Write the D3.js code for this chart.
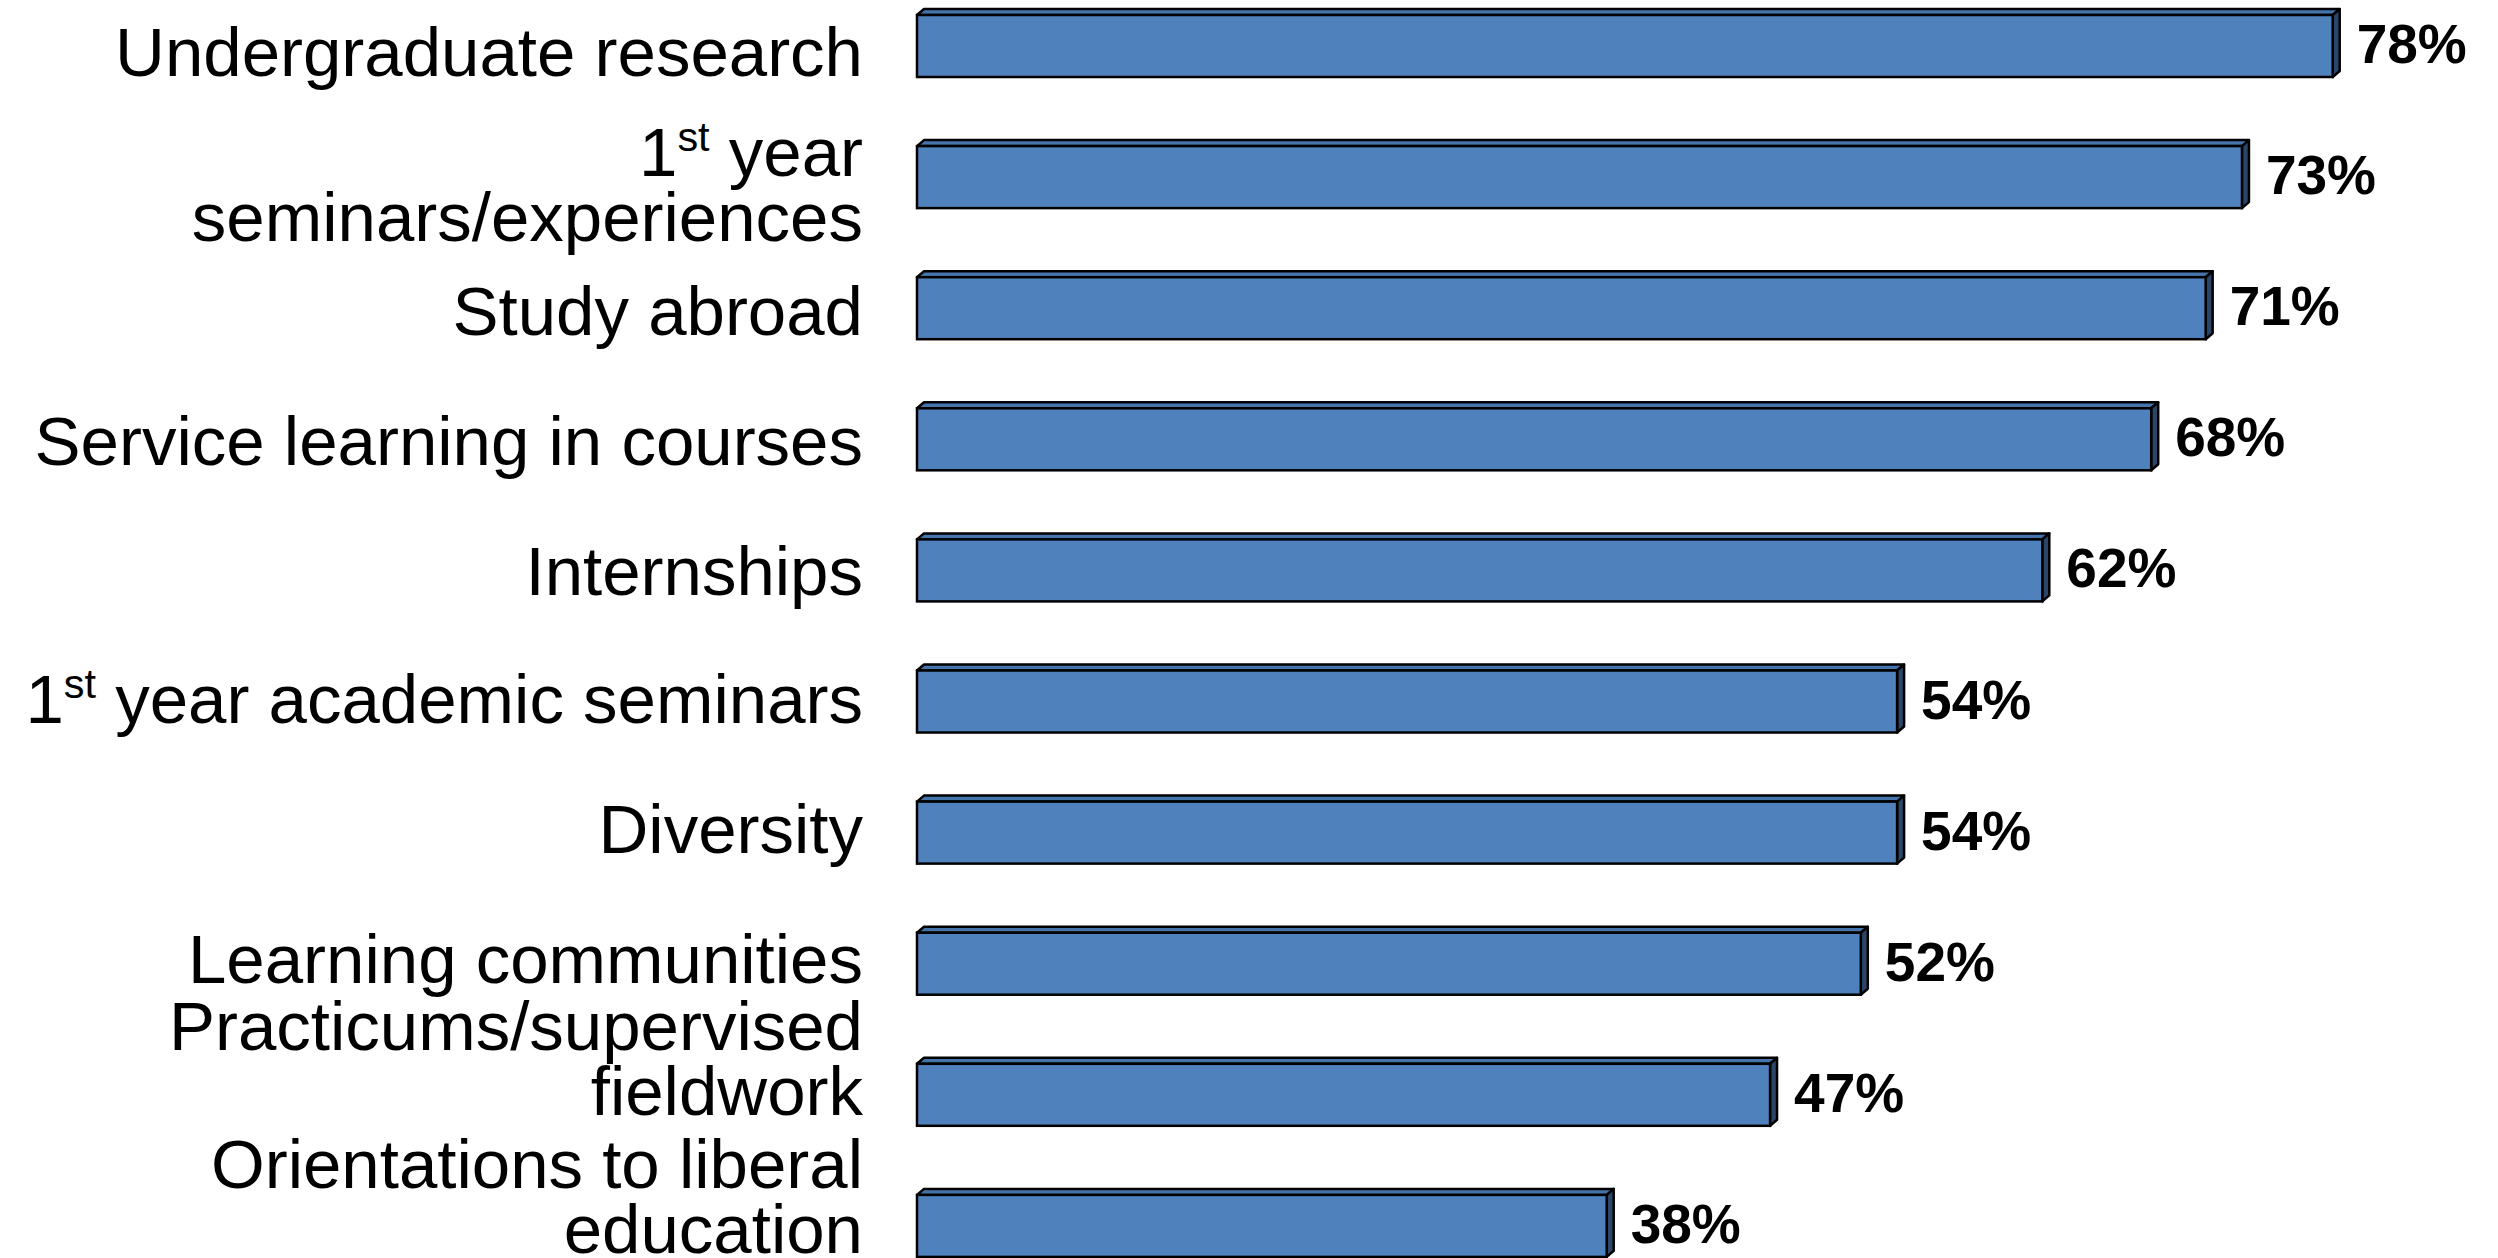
<!DOCTYPE html>
<html>
<head>
<meta charset="utf-8">
<script src="https://cdn.jsdelivr.net/npm/d3@7"></script>
<style>
  html, body { margin: 0; padding: 0; background: #fff; }
  svg { display: block; }
</style>
</head>
<body>
<svg id="chart" width="2498" height="1258"></svg>
<script>
// Share of institutions offering each high-impact practice
const categories = [
  "Undergraduate research",
  "1st year seminars/experiences",
  "Study abroad",
  "Service learning in courses",
  "Internships",
  "1st year academic seminars",
  "Diversity",
  "Learning communities",
  "Practicums/supervised fieldwork",
  "Orientations to liberal education"
];
const values = [78, 73, 71, 68, 62, 54, 54, 52, 47, 38];

// How each category name is broken into lines ("^" marks a superscript run)
const labelLines = [
  ["Undergraduate research"],
  ["1^st year", "seminars/experiences"],
  ["Study abroad"],
  ["Service learning in courses"],
  ["Internships"],
  ["1^st year academic seminars"],
  ["Diversity"],
  ["Learning communities"],
  ["Practicums/supervised", "fieldwork"],
  ["Orientations to liberal", "education"]
];

// Layout
const barLeft = 917, pxPerPct = 18.15;
const bandTop = 15, step = 131.1, padInner = 0.527;
const depthX = 7, depthY = 6;
const labelRight = 863, labelSize = 69, lineGap = 65;
// baseline of each label's last line, measured from the bar's middle
const labelBaselineDy = [30, 64, 27, 26, 25, 21, 20, 19, 20, 27];

const svg = d3.select("#chart");

const x = d3.scaleLinear().domain([0, 100]).range([barLeft, barLeft + 100 * pxPerPct]);
const y = d3.scaleBand()
  .domain(categories)
  .range([bandTop, bandTop + step * (categories.length - padInner)])
  .paddingInner(padInner)
  .paddingOuter(0);

const rows = categories.map((c, i) => ({ c, v: values[i], lines: labelLines[i], dy: labelBaselineDy[i] }));

const bars = svg.append("g").attr("class", "bars")
  .selectAll("g").data(rows).join("g");

// top face
bars.append("path")
  .attr("d", d => {
    const x0 = x(0), x1 = x(d.v), y0 = y(d.c);
    return `M${x0},${y0}L${x0 + depthX},${y0 - depthY}L${x1 + depthX},${y0 - depthY}L${x1},${y0}Z`;
  })
  .attr("fill", "#4574AB")
  .attr("stroke", "#000").attr("stroke-width", 2.5).attr("stroke-linejoin", "round");

// right side face
bars.append("path")
  .attr("d", d => {
    const x1 = x(d.v), y0 = y(d.c), y1 = y0 + y.bandwidth();
    return `M${x1},${y0}L${x1 + depthX},${y0 - depthY}L${x1 + depthX},${y1 - depthY}L${x1},${y1}Z`;
  })
  .attr("fill", "#2B4668")
  .attr("stroke", "#000").attr("stroke-width", 2.5).attr("stroke-linejoin", "round");

// front face
bars.append("rect")
  .attr("x", x(0))
  .attr("y", d => y(d.c))
  .attr("width", d => x(d.v) - x(0))
  .attr("height", y.bandwidth())
  .attr("fill", "#4F81BD")
  .attr("stroke", "#000").attr("stroke-width", 2.5);

// value labels
svg.append("g").attr("class", "values")
  .selectAll("text").data(rows).join("text")
  .attr("x", d => x(d.v) + depthX + 17)
  .attr("y", d => y(d.c) + y.bandwidth() / 2 + 17)
  .attr("font-family", "'Liberation Sans', Arial, sans-serif")
  .attr("font-weight", "bold")
  .attr("font-size", 55)
  .attr("fill", "#000")
  .text(d => d.v + "%");

// category labels
const labels = svg.append("g").attr("class", "labels")
  .selectAll("text").data(rows).join("text")
  .attr("text-anchor", "end")
  .attr("font-family", "'Liberation Sans', Arial, sans-serif")
  .attr("font-size", labelSize)
  .attr("fill", "#000");

labels.each(function(d) {
  const t = d3.select(this);
  const lastBase = y(d.c) + y.bandwidth() / 2 + d.dy;
  d.lines.forEach((line, li) => {
    const base = lastBase - (d.lines.length - 1 - li) * lineGap;
    const m = line.match(/^(.*?)\^(\w+)(.*)$/);
    if (m) {
      t.append("tspan").attr("x", labelRight).attr("y", base).text(m[1]);
      t.append("tspan").attr("font-size", labelSize * 0.6).attr("dy", -labelSize * 0.36).text(m[2]);
      t.append("tspan").attr("dy", labelSize * 0.36).text(m[3]);
    } else {
      t.append("tspan").attr("x", labelRight).attr("y", base).text(line);
    }
  });
});
</script>
</body>
</html>
